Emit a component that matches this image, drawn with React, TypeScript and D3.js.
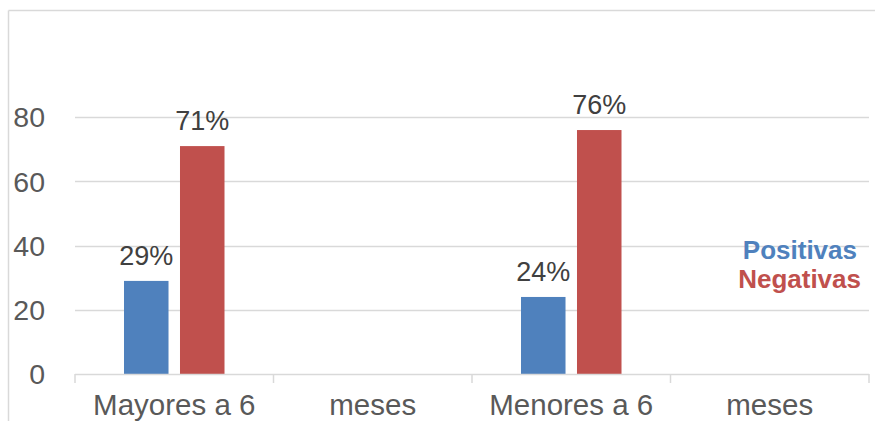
import React from "react";
import * as d3 from "d3";

const categories = ["Mayores a 6", "meses", "Menores a 6", "meses"];
const seriesNames = ["Positivas", "Negativas"];
const positivas: (number | null)[] = [29, null, 24, null];
const negativas: (number | null)[] = [71, null, 76, null];
const yTicks = [0, 20, 40, 60, 80];

const colors = ["#4F81BD", "#C0504D"];
const W = 875, H = 421;

export default function App() {
  const x = d3.scaleBand<number>().domain(categories.map((_, i) => i)).range([75, 869]).padding(0);
  const y = d3.scaleLinear().domain([0, 100]).range([374, 53]);
  const inner = d3.scaleBand<number>().domain([0, 1]).range([0, x.bandwidth()]).paddingInner(0.205).paddingOuter(0.875);
  const series = [positivas, negativas];
  const font = "Liberation Sans, Arial, sans-serif";
  const ticksX = [...categories.map((_, i) => x(i)!), x(categories.length - 1)! + x.bandwidth()];

  return (
    <svg width={W} height={H} style={{ position: "fixed", left: 0, top: 0, background: "#fff" }}>
      <rect x={0} y={0} width={W} height={H} fill="#fff" />
      {/* chart border */}
      <line x1={8.5} y1={10.5} x2={W} y2={10.5} stroke="#D9D9D9" strokeWidth={1.5} />
      <line x1={8.5} y1={10.5} x2={8.5} y2={H} stroke="#D9D9D9" strokeWidth={1.5} />
      {/* gridlines */}
      {yTicks.filter(t => t > 0).map(t => (
        <line key={t} x1={75} x2={869} y1={Math.round(y(t)) + 0.5} y2={Math.round(y(t)) + 0.5} stroke="#D9D9D9" strokeWidth={1.5} />
      ))}
      {/* y labels */}
      {yTicks.map(t => (
        <text key={t} x={45} y={y(t)} dy="0.36em" textAnchor="end" fontFamily={font} fontSize={28.5} fill="#595959">{t}</text>
      ))}
      {/* bars */}
      {series.map((vals, s) => vals.map((v, i) => v == null ? null : (
        <g key={`${s}-${i}`}>
          <rect x={x(i)! + inner(s)!} y={y(v)} width={inner.bandwidth()} height={y(0) - y(v)} fill={colors[s]} />
          <text x={x(i)! + inner(s)! + inner.bandwidth() / 2} y={y(v) - 16} textAnchor="middle" fontFamily={font} fontSize={27} fill="#404040">{v}%</text>
        </g>
      )))}
      {/* x axis */}
      <line x1={75} x2={869} y1={374.5} y2={374.5} stroke="#D9D9D9" strokeWidth={1.5} />
      {ticksX.map((tx, i) => (
        <line key={i} x1={tx} x2={tx} y1={374} y2={383} stroke="#D9D9D9" strokeWidth={1.5} />
      ))}
      {categories.map((c, i) => (
        <text key={i} x={x(i)! + x.bandwidth() / 2} y={415} textAnchor="middle" fontFamily={font} fontSize={29.5} fill="#595959">{c}</text>
      ))}
      {/* legend */}
      {seriesNames.map((n, s) => (
        <text key={n} x={s === 0 ? 857 : 861} y={259 + s * 29} textAnchor="end" fontFamily={font} fontSize={26} fontWeight="bold" fill={colors[s]}>{n}</text>
      ))}
    </svg>
  );
}
